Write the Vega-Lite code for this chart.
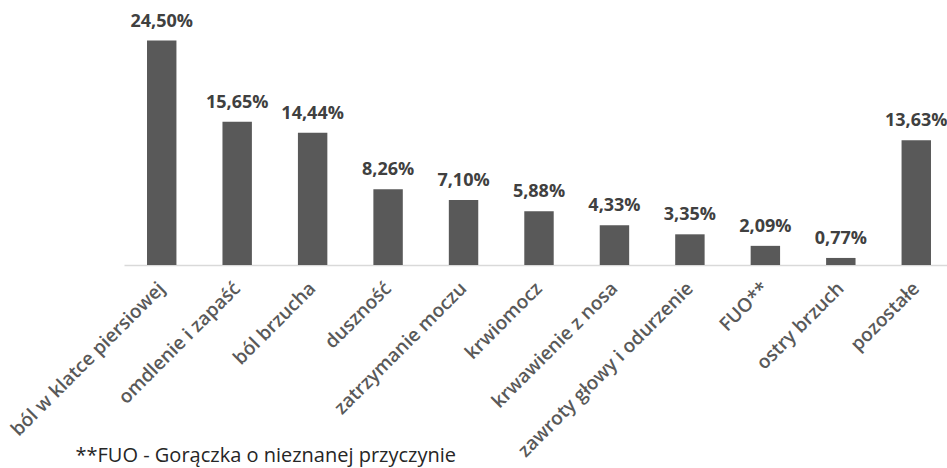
{
  "$schema": "https://vega.github.io/schema/vega-lite/v6.json",
  "autosize": {"type": "none"},
  "padding": {"left": 124, "top": 36, "right": 0, "bottom": 203},
  "width": 830,
  "height": 229,
  "background": "white",
  "data": {
    "values": [
      {"przyczyna": "ból w klatce piersiowej", "udzial": 24.50},
      {"przyczyna": "omdlenie i zapaść", "udzial": 15.65},
      {"przyczyna": "ból brzucha", "udzial": 14.44},
      {"przyczyna": "duszność", "udzial": 8.26},
      {"przyczyna": "zatrzymanie moczu", "udzial": 7.10},
      {"przyczyna": "krwiomocz", "udzial": 5.88},
      {"przyczyna": "krwawienie z nosa", "udzial": 4.33},
      {"przyczyna": "zawroty głowy i odurzenie", "udzial": 3.35},
      {"przyczyna": "FUO**", "udzial": 2.09},
      {"przyczyna": "ostry brzuch", "udzial": 0.77},
      {"przyczyna": "pozostałe", "udzial": 13.63}
    ]
  },
  "transform": [
    {"calculate": "replace(format(datum.udzial, '.2f'), '.', ',') + '%'", "as": "etykieta"}
  ],
  "encoding": {
    "x": {
      "field": "przyczyna",
      "type": "nominal",
      "sort": null,
      "scale": {"paddingInner": 0.61, "paddingOuter": 0.305},
      "axis": {
        "title": "**FUO - Gorączka o nieznanej przyczynie",
        "titleFont": "Open Sans",
        "titleFontSize": 20,
        "titleFontWeight": "normal",
        "titleColor": "#262626",
        "titleAnchor": "start",
        "titleAlign": "left",
        "titleBaseline": "alphabetic",
        "titleX": -49,
        "titleY": 196,
        "labelAngle": -45,
        "labelAlign": "right",
        "labelBaseline": "middle",
        "labelPadding": 20,
        "labelFont": "Open Sans",
        "labelFontSize": 19,
        "labelFontWeight": 600,
        "labelColor": "#595959",
        "labelOverlap": false,
        "labelLimit": 400,
        "ticks": false,
        "domainColor": "#d9d9d9",
        "domainWidth": 1.3,
        "grid": false
      }
    },
    "y": {
      "field": "udzial",
      "type": "quantitative",
      "scale": {"domain": [0, 25]},
      "axis": null
    }
  },
  "layer": [
    {"mark": {"type": "bar", "color": "#595959"}},
    {
      "mark": {
        "type": "text",
        "baseline": "alphabetic",
        "dy": -14,
        "font": "Open Sans",
        "fontSize": 18,
        "fontWeight": "bold",
        "color": "#404040"
      },
      "encoding": {"text": {"field": "etykieta"}}
    }
  ],
  "config": {"view": {"stroke": null}}
}
